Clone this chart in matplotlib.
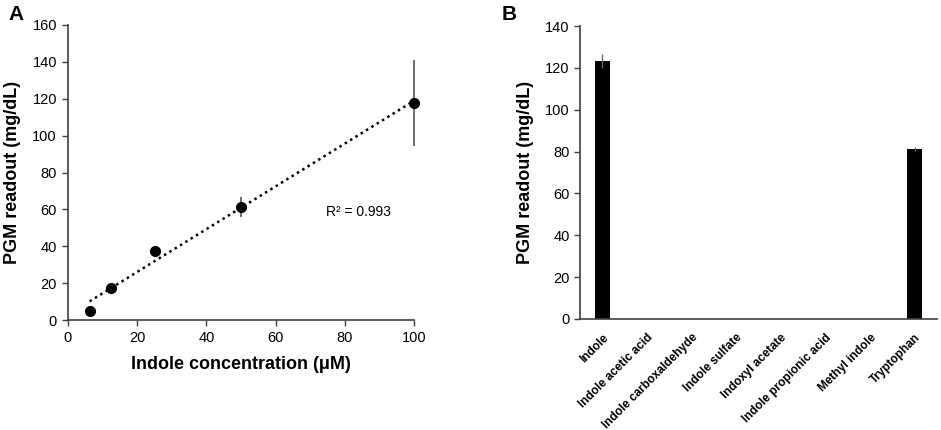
import numpy as np
import matplotlib
matplotlib.use("Agg")
import matplotlib.pyplot as plt

plt.rcParams['font.family'] = ['Liberation Sans', 'DejaVu Sans']

# Panel A data
conc = [6.25, 12.5, 25, 50, 100]
readout = [5.1, 17.6, 37.5, 61.4, 117.5]
readout_err = [1.0, 1.0, 1.2, 5.5, 23.3]
r2_label = "R² = 0.993"

# Panel B data
compounds = ["Indole", "Indole acetic acid", "Indole carboxaldehyde", "Indole sulfate",
             "Indoxyl acetate", "Indole propionic acid", "Methyl indole", "Tryptophan"]
compound_vals = [123.1, 0, 0, 0, 0, 0, 0, 81.1]
compound_err = [3.3, 0, 0, 0, 0, 0, 0, 0.9]

fig = plt.figure(figsize=(9.41, 4.30), dpi=100)
spine_col = '#404040'

# ---- Panel A ----
axA = fig.add_axes([68/941, 1-320/430, (414-68)/941, (320-25)/430])
slope, intercept = np.polyfit(conc, readout, 1)
xs = np.array([min(conc), max(conc)])
axA.plot(xs, slope*xs + intercept, linestyle=(0, (1, 1.5)), color='black', lw=1.8, zorder=2)
axA.errorbar(conc, readout, yerr=readout_err, fmt='o', color='black', ms=7,
             ecolor='#555555', elinewidth=1.2, capsize=0, zorder=3, clip_on=False)
axA.set_xlim(0, 100)
axA.set_ylim(0, 160)
axA.set_xticks(range(0, 101, 20))
axA.set_yticks(range(0, 161, 20))
axA.text(74.5, 58.5, r2_label, fontsize=10, va='center', ha='left')
axA.set_xlabel("Indole concentration (μM)", fontsize=13, fontweight='bold', labelpad=8)
axA.set_ylabel("PGM readout (mg/dL)", fontsize=13, fontweight='bold', labelpad=8)
for s in ['top', 'right']:
    axA.spines[s].set_visible(False)
for s in ['left', 'bottom']:
    axA.spines[s].set_color(spine_col)
    axA.spines[s].set_linewidth(1.2)
axA.tick_params(direction='out', length=4, width=1, color=spine_col, labelsize=10.5, pad=4)

# ---- Panel B ----
axB = fig.add_axes([580/941, 1-319/430, (937-580)/941, (319-26)/430])
x = np.arange(len(compounds))
axB.bar(x, compound_vals, width=0.34, color='black', zorder=2)
axB.errorbar(x[[0, 7]], np.array(compound_vals)[[0, 7]], yerr=np.array(compound_err)[[0, 7]],
             fmt='none', ecolor='#666666', elinewidth=1.0, capsize=0, zorder=3)
axB.set_xlim(-0.5, 7.5)
axB.set_ylim(0, 140)
axB.set_yticks(range(0, 141, 20))
axB.set_xticks(x)
axB.set_xticklabels(compounds, rotation=45, ha='right', rotation_mode='anchor',
                    fontsize=8.6, fontweight='bold')
axB.set_ylabel("PGM readout (mg/dL)", fontsize=13, fontweight='bold', labelpad=8)
for s in ['top', 'right']:
    axB.spines[s].set_visible(False)
for s in ['left', 'bottom']:
    axB.spines[s].set_color(spine_col)
    axB.spines[s].set_linewidth(1.2)
axB.tick_params(axis='y', direction='out', length=4, width=1, color=spine_col, labelsize=10.5)
axB.tick_params(axis='x', length=0, pad=9)

fig.text(8/941, 1-14/430, "A", fontsize=15, fontweight='bold', va='center', ha='left')
fig.text(502/941, 1-14/430, "B", fontsize=15, fontweight='bold', va='center', ha='left')

fig.savefig("out.png", dpi=100)
